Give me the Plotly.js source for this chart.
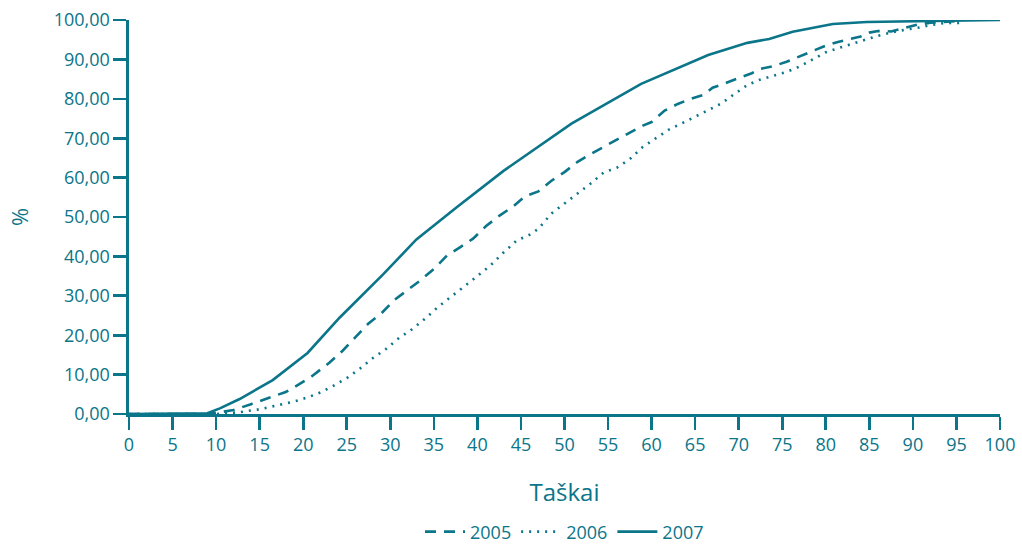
<!DOCTYPE html>
<html>
<head>
<meta charset="utf-8">
<script src="https://cdn.plot.ly/plotly-3.0.1.min.js"></script>
<style>html,body{margin:0;padding:0;background:#fff;}#chart{width:1022px;height:545px;}</style>
</head>
<body>
<div id="chart"></div>
<script>
const seriesNames = ['2005', '2006', '2007'];

const x2005 = [0,5,9,10,12,14,16,18,19.5,21,23,24.5,26,27.5,29,30.5,32,33.5,35,36.5,38,39.5,41,42.5,44,45.5,47,48.5,50,51.5,53,54.5,56,57.5,59,60,61.5,63,64.5,66,67,68.5,70,71.5,72.5,74,75.5,77,78.5,80,81.5,83,84,85,86,87.5,89,90.5,92,93.5,95];
const y2005 = [0,0,0,0.3,1,2.5,4,5.6,7.5,9.6,13,16,19.5,23,25.6,29,31.5,34,36.8,40.2,42.3,44.5,47.7,50.3,52.5,55.3,56.5,59.2,61.4,64,66,67.8,69.6,71.5,73.2,74.1,77,78.7,80,81,82.8,84,85.2,86.5,87.6,88.3,89.4,90.8,92.3,93.5,94.5,95.3,95.8,96.8,97.2,97.1,98,98.8,99.3,99.5,99.7];

const x2006 = [0,5,9,10,12.5,15,17,19,20.5,22,23.5,25,26.5,28,29.5,31,32.5,34,35.5,37,38.5,40,41.5,43,44.5,46,47,48.5,50,51.5,53,54.5,56,57.5,59,60.5,62,63.5,65,66.5,68,69.5,71,72.5,74,75.5,77,78.5,80,81.5,83,84.5,86,87.5,89,90.5,92,93.5,95,96];
const y2006 = [0,0,0,0,0.4,1.2,2.2,3.2,4.2,5.5,7.2,9.1,11.5,14.2,16.5,19.3,21.5,24.2,27.2,29.7,32.4,35,37.7,41,44,45.5,47,50.9,53.4,55.9,58.5,61.3,62.5,64.7,67.8,70,72.2,73.8,75.5,77.1,78.8,81.2,83.5,84.9,85.8,86.8,88.2,90.1,91.8,92.9,93.9,94.9,96,96.8,97.5,98,98.7,99.2,99.2,99.3];

const x2007 = [0,5,9,10.5,12.7,16.5,20.5,24.2,29.2,33,37.7,43,50.8,58.8,62,66.5,71,73.5,76.2,80.8,84.7,100];
const y2007 = [0,0.1,0.2,1.5,3.8,8.6,15.5,24.5,35.5,44.3,52.6,61.7,73.7,83.8,86.8,91.1,94.2,95.2,97,99,99.5,100];

const xTicks = [0,5,10,15,20,25,30,35,40,45,50,55,60,65,70,75,80,85,90,95,100];
const yTicks = [0,10,20,30,40,50,60,70,80,90,100];

const teal = '#0b7589';
const font = '"Open Sans", Lato, sans-serif';

const traces = [
  {x: x2005, y: y2005, name: seriesNames[0], mode: 'lines', line: {color: teal, width: 2.6, dash: '11px,8px'}},
  {x: x2006, y: y2006, name: seriesNames[1], mode: 'lines', line: {color: teal, width: 2.6, dash: '2px,6px'}},
  {x: x2007, y: y2007, name: seriesNames[2], mode: 'lines', line: {color: teal, width: 2.6}}
];

const layout = {
  width: 1022, height: 545,
  margin: {l: 129, r: 22, t: 20, b: 131},
  paper_bgcolor: '#fff', plot_bgcolor: '#fff',
  separators: ', ',
  font: {family: font, color: teal, size: 18},
  showlegend: true,
  legend: {orientation: 'h', x: 0.5, xanchor: 'center', xref: 'paper',
           y: 0.024, yanchor: 'middle', yref: 'container',
           font: {family: font, color: teal, size: 18}, itemwidth: 40, tracegroupgap: 0},
  xaxis: {
    automargin: false,
    range: [0, 100], tickvals: xTicks, ticktext: xTicks.map(String),
    showgrid: false, zeroline: false, showline: true, linecolor: teal, linewidth: 2.6,
    ticks: 'outside', ticklen: 13, tickwidth: 2.6, tickcolor: teal,
    tickfont: {family: font, color: teal, size: 18},
    title: {text: 'Taškai', font: {family: font, color: teal, size: 24}, standoff: 29}
  },
  yaxis: {
    automargin: false,
    range: [0, 100], tickvals: yTicks, tickformat: '.2f',
    showgrid: false, zeroline: false, showline: true, linecolor: teal, linewidth: 2.6,
    ticks: 'outside', ticklen: 13, tickwidth: 2.6, tickcolor: teal,
    tickfont: {family: font, color: teal, size: 18},
    title: {text: '%', font: {family: font, color: teal, size: 22}, standoff: 19}
  }
};

Plotly.newPlot('chart', traces, layout, {displayModeBar: false, staticPlot: true});
</script>
</body>
</html>
